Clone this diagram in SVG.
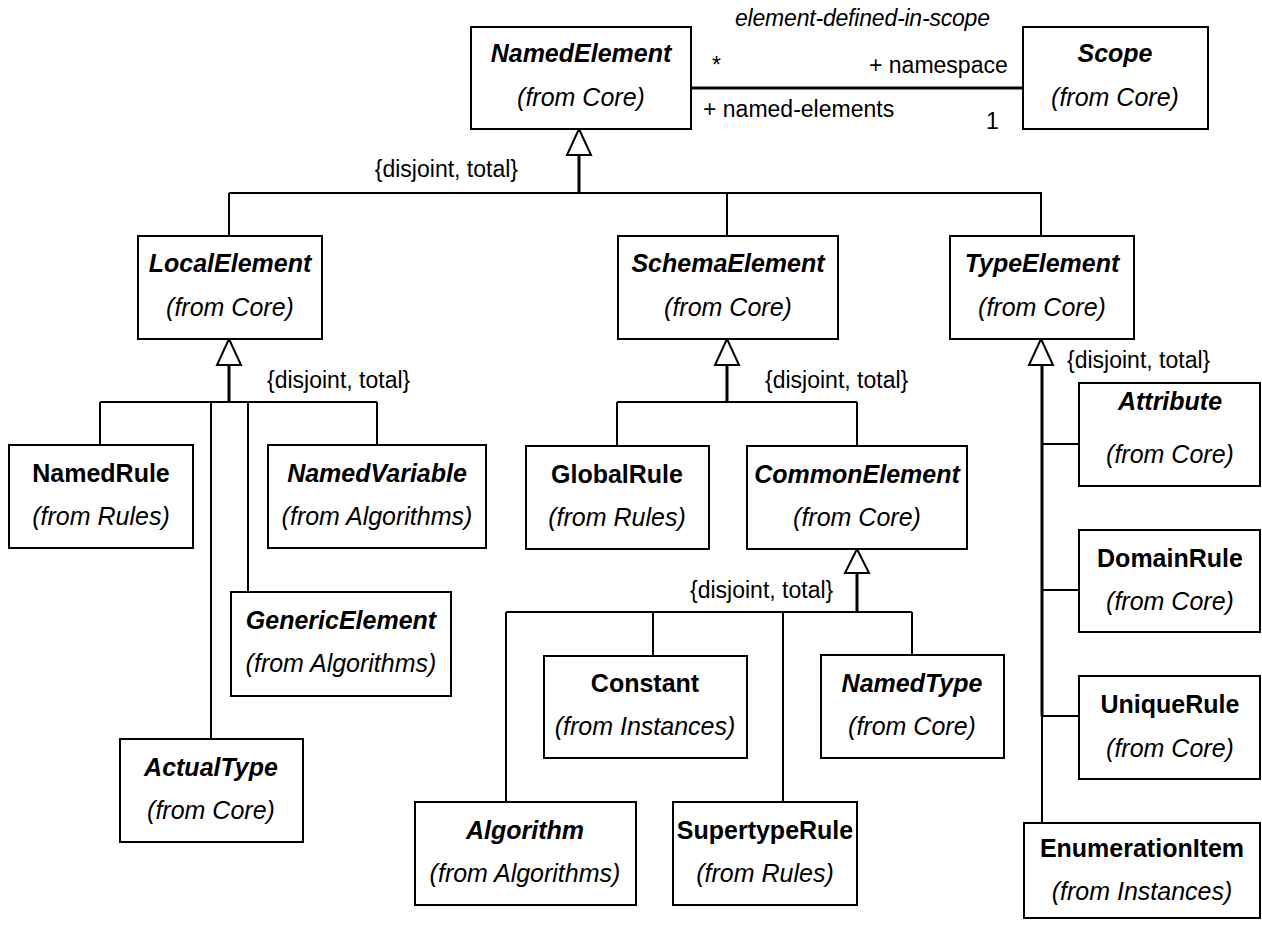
<svg xmlns="http://www.w3.org/2000/svg" width="1262" height="925" viewBox="0 0 1262 925">
<style>
.box{fill:#fff;stroke:#000;stroke-width:2}
.n{font-family:"Liberation Sans",Arial,sans-serif;font-size:25px;font-weight:bold;text-anchor:middle;fill:#000}
.i{font-style:italic}
.s{font-family:"Liberation Sans",Arial,sans-serif;font-size:25px;font-style:italic;text-anchor:middle;fill:#000}
.l{font-family:"Liberation Sans",Arial,sans-serif;font-size:23px;fill:#000}
#connectors line{stroke:#000;stroke-width:2}
#connectors line.thick{stroke-width:3}
#connectors path{fill:#fff;stroke:#000;stroke-width:2}
</style>
<rect width="1262" height="925" fill="#fff"/>

<g id="connectors">
  <line class="thick" x1="691" y1="88" x2="1023" y2="88"/>
  <!-- NamedElement generalization -->
  <line class="thick" x1="579" y1="155" x2="579" y2="193"/>
  <line x1="229" y1="193" x2="1042" y2="193"/>
  <line x1="229" y1="193" x2="229" y2="236"/>
  <line x1="727" y1="193" x2="727" y2="236"/>
  <line x1="1041" y1="193" x2="1041" y2="236"/>
  <path d="M579,129 L567,155 L591,155 Z"/>
  <!-- LocalElement generalization -->
  <line class="thick" x1="229" y1="365" x2="229" y2="402"/>
  <line x1="100" y1="402" x2="377" y2="402"/>
  <line x1="100" y1="402" x2="100" y2="445"/>
  <line x1="211" y1="402" x2="211" y2="739"/>
  <line x1="248" y1="402" x2="248" y2="592"/>
  <line x1="377" y1="402" x2="377" y2="445"/>
  <path d="M229,339 L217,365 L241,365 Z"/>
  <!-- SchemaElement generalization -->
  <line class="thick" x1="727" y1="365" x2="727" y2="402"/>
  <line x1="617" y1="402" x2="857" y2="402"/>
  <line x1="617" y1="402" x2="617" y2="446"/>
  <line x1="857" y1="402" x2="857" y2="446"/>
  <path d="M727,339 L715,365 L739,365 Z"/>
  <!-- CommonElement generalization -->
  <line class="thick" x1="857" y1="573" x2="857" y2="612"/>
  <line x1="506" y1="612" x2="912" y2="612"/>
  <line x1="506" y1="612" x2="506" y2="802"/>
  <line x1="653" y1="612" x2="653" y2="656"/>
  <line x1="783" y1="612" x2="783" y2="802"/>
  <line x1="912" y1="612" x2="912" y2="655"/>
  <path d="M857,549 L845,573 L869,573 Z"/>
  <!-- TypeElement generalization -->
  <line class="thick" x1="1042" y1="365" x2="1042" y2="716"/>
  <line x1="1042" y1="716" x2="1042" y2="823"/>
  <line x1="1042" y1="444" x2="1079" y2="444"/>
  <line x1="1042" y1="590" x2="1079" y2="590"/>
  <line x1="1042" y1="716" x2="1079" y2="716"/>
  <path d="M1041,339 L1029,365 L1053,365 Z"/>
</g>

<g id="labels">
  <text class="l i" x="735" y="26" textLength="255">element-defined-in-scope</text>
  <text class="l" x="712" y="73">*</text>
  <text class="l" x="869" y="73">+ namespace</text>
  <text class="l" x="703" y="117">+ named-elements</text>
  <text class="l" x="986" y="129">1</text>
  <text class="l" x="518" y="177" text-anchor="end">{disjoint, total}</text>
  <text class="l" x="267" y="388">{disjoint, total}</text>
  <text class="l" x="765" y="388">{disjoint, total}</text>
  <text class="l" x="690" y="598">{disjoint, total}</text>
  <text class="l" x="1067" y="368">{disjoint, total}</text>
</g>

<g id="NamedElement"><rect class="box" x="471" y="27" width="220" height="102"/><text class="n i" x="581" y="62">NamedElement</text><text class="s" x="581" y="106">(from Core)</text></g>
<g id="Scope"><rect class="box" x="1023" y="27" width="185" height="102"/><text class="n i" x="1115" y="62">Scope</text><text class="s" x="1115" y="106">(from Core)</text></g>
<g id="LocalElement"><rect class="box" x="138" y="236" width="184" height="103"/><text class="n i" x="230" y="272">LocalElement</text><text class="s" x="230" y="316">(from Core)</text></g>
<g id="SchemaElement"><rect class="box" x="618" y="236" width="220" height="103"/><text class="n i" x="728" y="272">SchemaElement</text><text class="s" x="728" y="316">(from Core)</text></g>
<g id="TypeElement"><rect class="box" x="950" y="236" width="184" height="103"/><text class="n i" x="1042" y="272">TypeElement</text><text class="s" x="1042" y="316">(from Core)</text></g>
<g id="NamedRule"><rect class="box" x="9" y="445" width="184" height="103"/><text class="n" x="101" y="482">NamedRule</text><text class="s" x="101" y="525">(from Rules)</text></g>
<g id="NamedVariable"><rect class="box" x="268" y="445" width="218" height="103"/><text class="n i" x="377" y="482">NamedVariable</text><text class="s" x="377" y="525">(from Algorithms)</text></g>
<g id="GenericElement"><rect class="box" x="231" y="592" width="220" height="104"/><text class="n i" x="341" y="629">GenericElement</text><text class="s" x="341" y="672">(from Algorithms)</text></g>
<g id="ActualType"><rect class="box" x="120" y="739" width="183" height="103"/><text class="n i" x="211" y="776">ActualType</text><text class="s" x="211" y="819">(from Core)</text></g>
<g id="GlobalRule"><rect class="box" x="526" y="446" width="183" height="103"/><text class="n" x="617" y="483">GlobalRule</text><text class="s" x="617" y="526">(from Rules)</text></g>
<g id="CommonElement"><rect class="box" x="747" y="446" width="220" height="103"/><text class="n i" x="857" y="483">CommonElement</text><text class="s" x="857" y="526">(from Core)</text></g>
<g id="Constant"><rect class="box" x="544" y="656" width="203" height="102"/><text class="n" x="645" y="692">Constant</text><text class="s" x="645" y="735">(from Instances)</text></g>
<g id="NamedType"><rect class="box" x="821" y="655" width="183" height="103"/><text class="n i" x="912" y="692">NamedType</text><text class="s" x="912" y="735">(from Core)</text></g>
<g id="Algorithm"><rect class="box" x="415" y="802" width="221" height="103"/><text class="n i" x="525" y="839">Algorithm</text><text class="s" x="525" y="882">(from Algorithms)</text></g>
<g id="SupertypeRule"><rect class="box" x="673" y="802" width="184" height="103"/><text class="n" x="765" y="839">SupertypeRule</text><text class="s" x="765" y="882">(from Rules)</text></g>
<g id="Attribute"><rect class="box" x="1079" y="383" width="181" height="103"/><text class="n i" x="1170" y="410">Attribute</text><text class="s" x="1170" y="463">(from Core)</text></g>
<g id="DomainRule"><rect class="box" x="1079" y="530" width="181" height="102"/><text class="n" x="1170" y="567">DomainRule</text><text class="s" x="1170" y="610">(from Core)</text></g>
<g id="UniqueRule"><rect class="box" x="1079" y="676" width="181" height="103"/><text class="n" x="1170" y="713">UniqueRule</text><text class="s" x="1170" y="757">(from Core)</text></g>
<g id="EnumerationItem"><rect class="box" x="1024" y="823" width="236" height="95"/><text class="n" x="1142" y="857">EnumerationItem</text><text class="s" x="1142" y="900">(from Instances)</text></g>
</svg>
